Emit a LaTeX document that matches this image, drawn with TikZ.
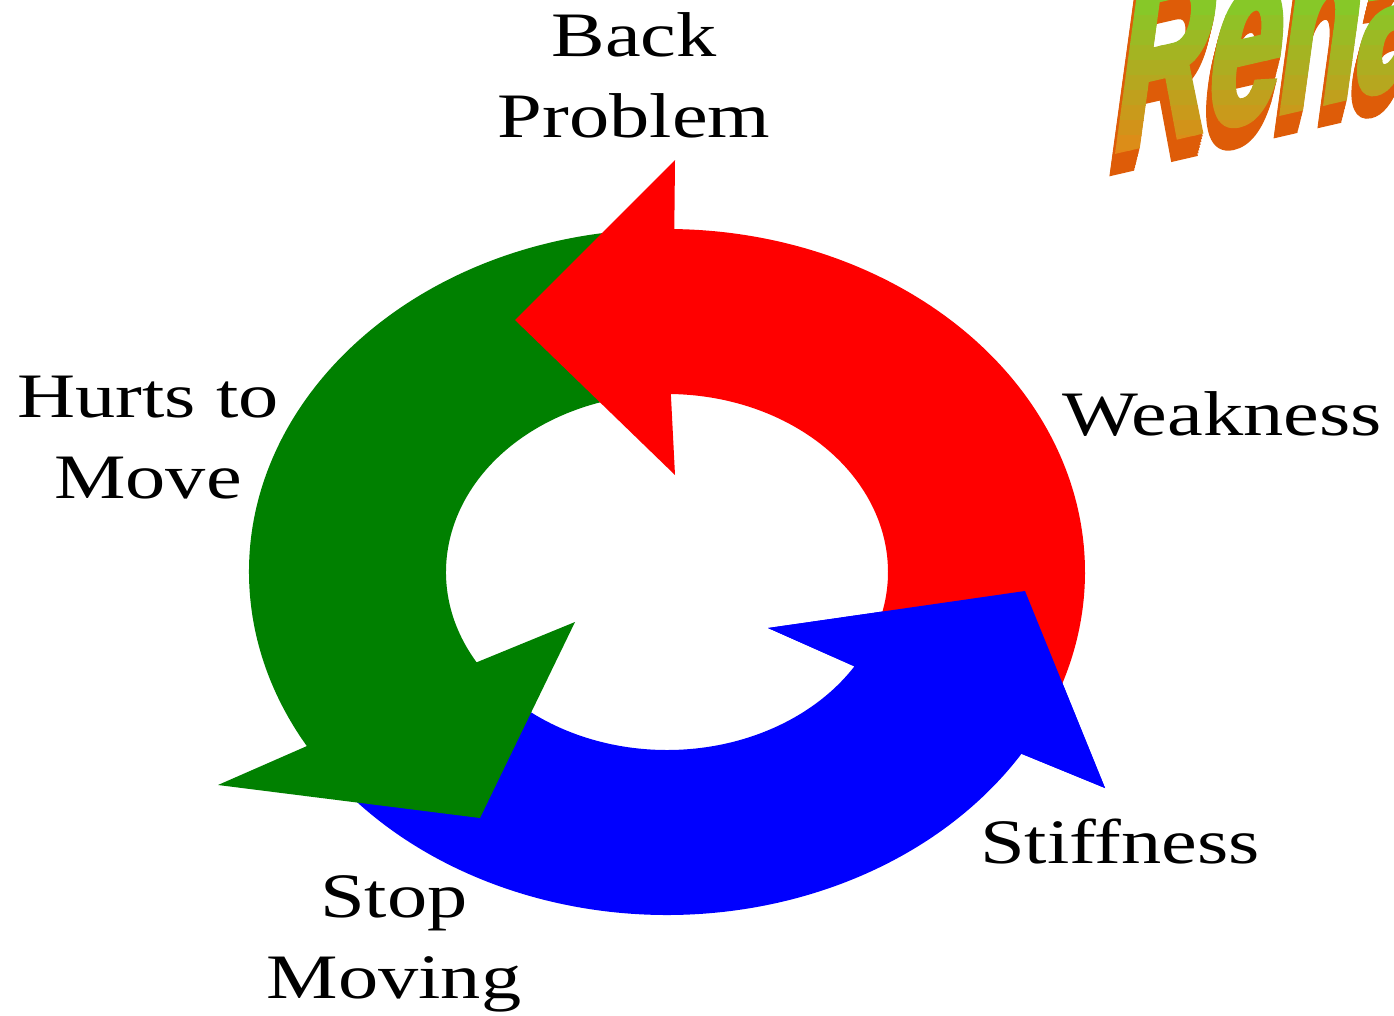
\documentclass[tikz,border=0pt]{standalone}
\usepackage{fontspec}
\setmainfont[FakeStretch=1.27]{Liberation Serif}
\newfontfamily\rehabfont[FakeStretch=0.55,FakeSlant=0.38,FakeBold=2.5]{Liberation Sans}
\usetikzlibrary{calc}

\definecolor{arrowred}{RGB}{255,0,0}
\definecolor{arrowgreen}{RGB}{0,128,0}
\definecolor{arrowblue}{RGB}{0,0,255}
\definecolor{rhgreen}{RGB}{135,200,40}
\definecolor{rhorange}{RGB}{238,128,20}
\definecolor{rhdeep}{RGB}{222,92,8}

\begin{document}
\begin{tikzpicture}[x=0.01cm, y=0.01cm,
  every node/.style={inner sep=0pt, outer sep=0pt},
  cyclelabel/.style={font=\fontsize{18}{22.8}\selectfont, align=center, anchor=base},
  rehab/.style={font=\rehabfont\bfseries\fontsize{68}{68}\selectfont, rotate=13, anchor=base west}]

        \useasboundingbox (0,0) rectangle (1394,-1015);
        \fill[white] (0,0) rectangle (1394,-1015);

        \def\rxo{418} % Outer radii of the ring
        \def\ryo{343}
        \def\rxi{221} % Inner radii of the ring
        \def\ryi{178}

        \coordinate (ctr) at (667,-572);

        \coordinate (b1) at (1105,-788);
        \coordinate (bt) at (1025,-591);
        \coordinate (b2) at (768,-628);

        \coordinate (g1) at (218,-785);
        \coordinate (gt) at (480,-818);
        \coordinate (g2) at (575,-622);

        \coordinate (r1) at (675,-160);
        \coordinate (rt) at (515,-320);
        \coordinate (r2) at (675,-475);

        \fill[arrowblue] ($(ctr)+({\rxo*cos(218)},{\ryo*sin(218)})$)
          arc[start angle=218, end angle=328, x radius=\rxo, y radius=\ryo]
          -- (b1) -- (bt) -- (b2)
          -- ($(ctr)+({\rxi*cos(328)},{\ryi*sin(328)})$)
          arc[start angle=328, end angle=218, x radius=\rxi, y radius=\ryi] -- cycle;

        \fill[arrowgreen] ($(ctr)+({\rxo*cos(95)},{\ryo*sin(95)})$)
          arc[start angle=95, end angle=210.5, x radius=\rxo, y radius=\ryo]
          -- (g1) -- (gt) -- (g2)
          -- ($(ctr)+({\rxi*cos(210.5)},{\ryi*sin(210.5)})$)
          arc[start angle=210.5, end angle=95, x radius=\rxi, y radius=\ryi] -- cycle;

        \fill[arrowred] ($(ctr)+({\rxo*cos(-22)},{\ryo*sin(-22)})$)
          arc[start angle=-22, end angle=89, x radius=\rxo, y radius=\ryo]
          -- (r1) -- (rt) -- (r2)
          -- ($(ctr)+({\rxi*cos(89)},{\ryi*sin(89)})$)
          arc[start angle=89, end angle=-22, x radius=\rxi, y radius=\ryi] -- cycle;

        % blue head once more, over the red tail
        \fill[arrowblue] ($(ctr)+({\rxo*cos(328)},{\ryo*sin(328)})$)
          -- (b1) -- (bt) -- (b2)
          -- ($(ctr)+({\rxi*cos(328)},{\ryi*sin(328)})$) -- cycle;

        \node[cyclelabel] (back) at (634,-137) {Back\\Problem};
        \node[cyclelabel] (hurts) at (148,-498) {Hurts to\\Move};
        \node[cyclelabel] (weak) at (1222,-435) {Weakness};
        \node[cyclelabel] (stiff) at (1120,-863) {Stiffness};
        \node[cyclelabel] (stop) at (394,-998) {Stop\\Moving};

        \begin{scope}
          \clip (1090,0) rectangle (1394,-200);
          \foreach \k in {8,...,1}
            \node[rehab, text=rhdeep] (rx\k) at ({1110-0.7*\k},{-152-2.8*\k}) {Rehab};
          \foreach \i in {0,...,11} {
            \pgfmathtruncatemacro\mixval{100-\i*100/11}
            \begin{scope}
              \clip (1090,{-\i*15}) rectangle (1394,{-(\i+1)*15});
              \node[rehab, text=rhgreen!\mixval!rhorange] (rh\i) at (1110,-152) {Rehab};
            \end{scope}
          }
        \end{scope}

\end{tikzpicture}
\end{document}
